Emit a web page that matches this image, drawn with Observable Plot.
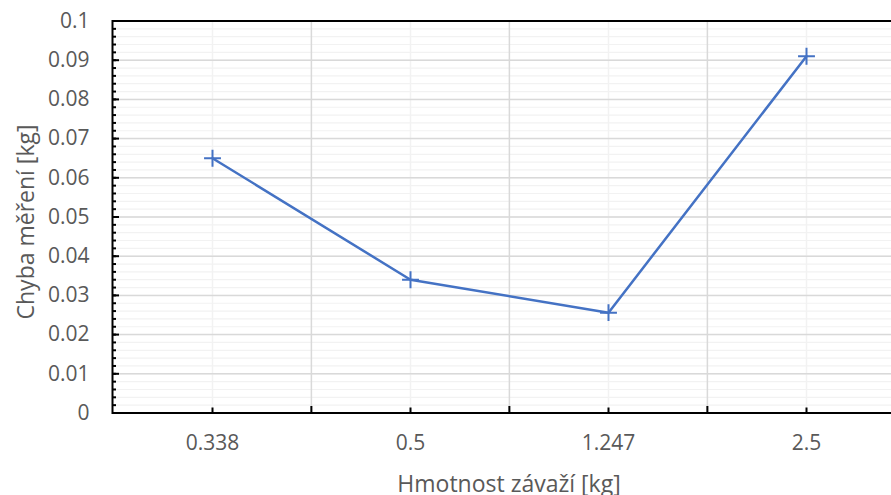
<!DOCTYPE html>
<html>
<head>
<meta charset="utf-8">
<script src="https://cdn.jsdelivr.net/npm/d3@7"></script>
<script src="https://cdn.jsdelivr.net/npm/@observablehq/plot@0.6"></script>
<style>
  html, body { margin: 0; padding: 0; background: #fff; overflow: hidden; }
  #chart svg { max-width: none !important; display: block; }
</style>
</head>
<body>
<div id="chart"></div>
<script>
const categories = ["0.338", "0.5", "1.247", "2.5"];
const errors = [0.065, 0.034, 0.0256, 0.091];
const yTicks = [0, 0.01, 0.02, 0.03, 0.04, 0.05, 0.06, 0.07, 0.08, 0.09, 0.1];
const yTickLabels = ["0", "0.01", "0.02", "0.03", "0.04", "0.05", "0.06", "0.07", "0.08", "0.09", "0.1"];
const xTitle = "Hmotnost závaží [kg]";
const yTitle = "Chyba měření [kg]";

const data = categories.map((c, i) => ({mass: c, err: errors[i]}));

const width = 905, height = 495;
const marginLeft = 112, marginRight = 0, marginTop = 20.5, marginBottom = 82.5;
const step = (width - marginLeft - marginRight) / categories.length;
const font = "'Open Sans', sans-serif";
const textColor = "#595959";

const chart = Plot.plot({
  width, height, marginLeft, marginRight, marginTop, marginBottom,
  style: {fontFamily: font, background: "#fff", maxWidth: "none", overflow: "visible"},
  x: {type: "band", domain: categories, padding: 0, axis: null, label: null},
  y: {domain: [0, 0.1], axis: null, label: null},
  marks: [
    Plot.gridY({ticks: 50, stroke: "#f2f2f2", strokeOpacity: 1, strokeWidth: 1.2}),
    Plot.ruleX(categories, {stroke: "#f2f2f2", strokeWidth: 1.5}),
    Plot.gridY(yTicks, {stroke: "#d9d9d9", strokeOpacity: 1, strokeWidth: 1.5}),
    Plot.ruleX(categories.slice(1), {dx: -step / 2, stroke: "#d9d9d9", strokeWidth: 1.5}),
    Plot.axisY({ticks: 50, tickSize: -4, strokeWidth: 2, text: null, stroke: "black", label: null}),
    Plot.axisY(yTicks, {tickSize: -7, strokeWidth: 2, stroke: "black", text: null, label: null}),
    Plot.axisY(yTicks, {tickSize: 0, tickPadding: 23, tickFormat: (d, i) => yTickLabels[i], fontSize: 21, fill: textColor, label: null}),
    Plot.axisX(categories, {tickSize: -5, strokeWidth: 2, stroke: "black", text: null, label: null}),
    Plot.axisX(categories.slice(1), {tickSize: -6.5, strokeWidth: 2, stroke: "black", text: null, dx: -step / 2, label: null}),
    Plot.axisX(categories, {tickSize: 0, tickPadding: 22, fontSize: 21, fill: textColor, label: null}),
    Plot.frame({stroke: "black", strokeWidth: 2}),
    Plot.line(data, {x: "mass", y: "err", stroke: "#4472c4", strokeWidth: 2.5}),
    Plot.dot(data, {x: "mass", y: "err", symbol: "plus", r: 5.5, stroke: "#4472c4", strokeWidth: 2}),
    Plot.text([xTitle], {frameAnchor: "bottom", textAnchor: "middle", lineAnchor: "bottom", dy: 78.5, fontSize: 23, fill: textColor}),
    Plot.text([yTitle], {frameAnchor: "left", textAnchor: "middle", rotate: -90, lineAnchor: "bottom", dx: -79, dy: 5, fontSize: 23, fill: textColor})
  ]
});
document.getElementById("chart").append(chart);
</script>
</body>
</html>
